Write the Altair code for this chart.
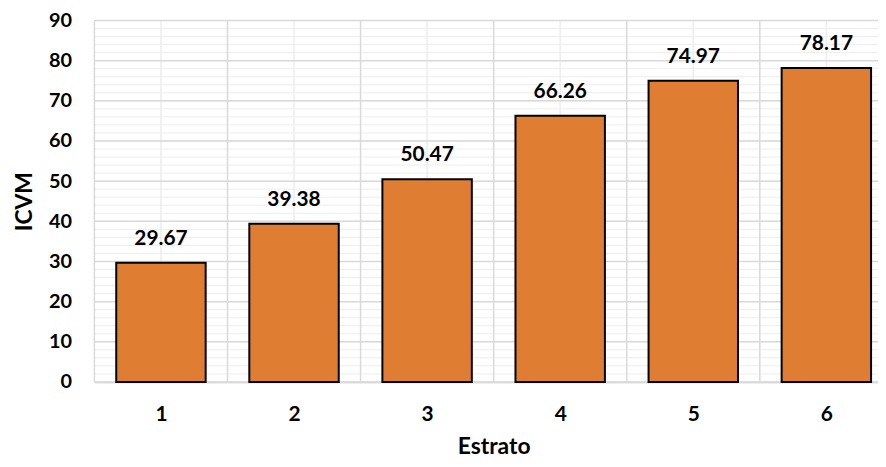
import altair as alt
import pandas as pd
import numpy as np

# ---- data ----
estratos = [1, 2, 3, 4, 5, 6]
icvm = [29.67, 39.38, 50.47, 66.26, 74.97, 78.17]
labels = ["29.67", "39.38", "50.47", "66.26", "74.97", "78.17"]
y_major_ticks = list(range(0, 91, 10))

df = pd.DataFrame({"estrato": estratos, "icvm": icvm, "label": labels})

W, H = 789, 364
BAND_PX = 134
x_domain = [0.5, 0.5 + W / BAND_PX]
xs = alt.Scale(domain=x_domain, nice=False, zero=False)
ys = alt.Scale(domain=[0, 90], nice=False)

FONT = "Lato"
MAJOR = "#D9D9D9"
MINOR = "#EDEDED"

X_AXIS = alt.Axis(
    values=estratos, format="d", title="Estrato",
    labelFont=FONT, labelFontSize=21, labelFontWeight="bold", labelColor="black",
    labelPadding=22, ticks=False, grid=False,
    domainColor="#BFBFBF", domainWidth=1.5,
    titleFont=FONT, titleFontSize=23, titleFontWeight="bold", titleColor="black",
    titleX=(6 * BAND_PX) / 2, titleY=72, titleBaseline="alphabetic")
Y_AXIS = alt.Axis(
    values=y_major_ticks, title="ICVM",
    labelFont=FONT, labelFontSize=20, labelFontWeight="bold", labelColor="black",
    labelPadding=23, ticks=False, grid=False, domain=False,
    titleFont=FONT, titleFontSize=23, titleFontWeight="bold", titleColor="black",
    titleX=-63, titleY=H / 2, titleBaseline="alphabetic")

minor_y = pd.DataFrame({"v": np.arange(0, 91, 2)})
major_y = pd.DataFrame({"v": y_major_ticks})
minor_x = pd.DataFrame({"v": estratos})
major_x = pd.DataFrame({"v": [e - 0.5 for e in estratos]})

r_minor_y = alt.Chart(minor_y).mark_rule(color=MINOR, strokeWidth=1).encode(
    y=alt.Y("v:Q", scale=ys, axis=Y_AXIS))
r_minor_x = alt.Chart(minor_x).mark_rule(color=MINOR, strokeWidth=1.5).encode(
    x=alt.X("v:Q", scale=xs, axis=X_AXIS))
r_major_y = alt.Chart(major_y).mark_rule(color=MAJOR, strokeWidth=1.5).encode(
    y=alt.Y("v:Q", scale=ys, axis=Y_AXIS))
r_major_x = alt.Chart(major_x).mark_rule(color=MAJOR, strokeWidth=1.5).encode(
    x=alt.X("v:Q", scale=xs, axis=X_AXIS))

bars = alt.Chart(df).transform_calculate(
    x0="datum.estrato - 0.336", x1="datum.estrato + 0.336"
).mark_bar(color="#DF7E33", stroke="black", strokeWidth=2).encode(
    x=alt.X("x0:Q", scale=xs, axis=X_AXIS),
    x2="x1:Q",
    y=alt.Y("icvm:Q", scale=ys, axis=Y_AXIS),
    y2=alt.Y2(datum=0),
)

text = alt.Chart(df).mark_text(
    font=FONT, fontSize=21, fontWeight="bold", color="black",
    baseline="alphabetic", dy=-18
).encode(
    x=alt.X("estrato:Q", scale=xs, axis=X_AXIS),
    y=alt.Y("icvm:Q", scale=ys, axis=Y_AXIS),
    text="label:N",
)

chart = alt.layer(r_minor_y, r_minor_x, r_major_y, r_major_x, bars, text).properties(
    width=W, height=H,
    autosize="none",
    padding={"left": 87, "top": 11, "right": 0, "bottom": 76},
    background="white",
).configure_view(stroke=None)

chart.save("out.html", embed_options={"renderer": "svg", "actions": False})
